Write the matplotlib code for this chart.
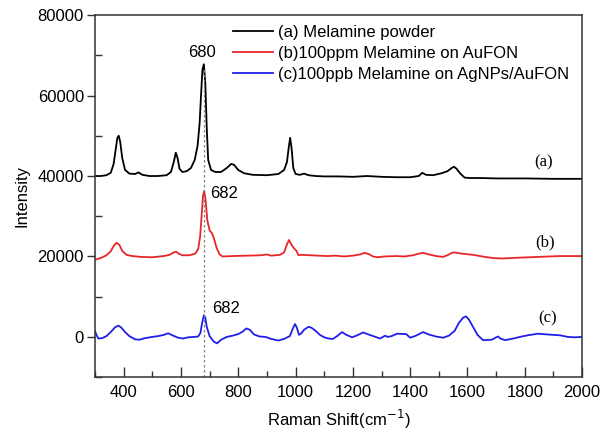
import matplotlib
matplotlib.use("Agg")
import matplotlib.pyplot as plt
from matplotlib.ticker import MultipleLocator

plt.rcParams["font.family"] = ["Liberation Sans", "DejaVu Sans"]

# (a) Melamine powder
a_x = [300, 320, 340, 355, 365, 372, 378, 383, 388, 395, 405, 420, 440, 452, 465, 490,
       520, 550, 565, 575, 582, 588, 595, 605, 620, 635, 648, 658, 665, 670, 675, 680,
       685, 690, 695, 705, 720, 740, 760, 775, 785, 800, 820, 850, 900, 940, 960, 970,
       976, 981, 986, 992, 1000, 1015, 1030, 1045, 1070, 1100, 1150, 1200, 1250, 1300,
       1350, 1400, 1430, 1442, 1455, 1480, 1510, 1530, 1545, 1553, 1562, 1575, 1590,
       1610, 1650, 1700, 1800, 1900, 2000]
a_y = [40000, 40000, 40200, 40800, 43000, 46500, 49500, 50000, 48500, 44500, 41500, 40600,
       40500, 40900, 40300, 40000, 40000, 40200, 41000, 43500, 45800, 44500, 41800, 41000,
       41200, 42000, 44000, 47500, 53000, 60000, 66500, 67800, 63000, 52000, 44000, 41500,
       41000, 41000, 42000, 43000, 42800, 41500, 40700, 40300, 40200, 40500, 41500, 43500,
       47000, 49500, 47000, 42000, 40500, 40300, 40600, 40200, 40000, 39900, 39900, 39800,
       40000, 39800, 39700, 39700, 40000, 40800, 40300, 40200, 40700, 41200, 42000, 42300,
       41800, 40600, 39600, 39500, 39500, 39400, 39400, 39300, 39300]

# (b) 100 ppm on AuFON
b_x = [300, 320, 340, 355, 365, 375, 385, 395, 410, 430, 460, 500, 540, 560, 575, 583,
       592, 605, 630, 650, 660, 667, 672, 677, 681, 686, 692, 700, 708, 715, 725, 735,
       745, 780, 830, 880, 900, 915, 945, 960, 970, 977, 985, 995, 1003, 1010, 1020, 1050,
       1080, 1110, 1140, 1170, 1200, 1225, 1240, 1255, 1270, 1285, 1310, 1350, 1380, 1410,
       1430, 1445, 1460, 1490, 1515, 1530, 1545, 1555, 1580, 1620, 1660, 1690, 1720, 1780,
       1850, 1920, 2000]
b_y = [19200, 19600, 20300, 21300, 22600, 23400, 22900, 21400, 20400, 20100, 19900, 19800,
       20100, 20400, 21000, 21200, 20700, 20300, 20300, 20700, 21800, 25000, 30000, 35000,
       36300, 34000, 29000, 26500, 25800, 24500, 22000, 20500, 20000, 20100, 20200, 20300,
       20500, 20200, 20400, 21000, 23000, 24100, 23000, 22000, 21400, 20300, 20400, 20300,
       20200, 20100, 20200, 20000, 20200, 20500, 20900, 20600, 20000, 19800, 20000, 20100,
       20000, 20300, 20700, 20900, 20600, 20100, 19900, 20300, 20900, 21000, 20700, 20400,
       19900, 19600, 19500, 19700, 19900, 20100, 20100]

# (c) 100 ppb on AgNPs/AuFON
c_x = [300, 305, 312, 325, 340, 355, 370, 382, 392, 405, 420, 440, 455, 475, 500, 520,
       540, 555, 570, 590, 607, 625, 645, 660, 668, 674, 680, 685, 690, 700, 715, 726,
       740, 760, 780, 800, 815, 828, 840, 855, 875, 895, 915, 940, 960, 980, 990, 998,
       1004, 1012, 1020, 1030, 1045, 1055, 1070, 1085, 1100, 1115, 1130, 1145, 1162, 1175,
       1197, 1215, 1236, 1255, 1275, 1295, 1305, 1312, 1322, 1335, 1354, 1386, 1400, 1420,
       1445, 1465, 1490, 1515, 1535, 1555, 1570, 1585, 1595, 1605, 1620, 1635, 1654, 1685,
       1700, 1707, 1715, 1731, 1760, 1783, 1810, 1846, 1880, 1923, 1950, 1975, 2000]
c_y = [1500, 500, -400, -300, 200, 1200, 2400, 2800, 2300, 1200, 200, -600, -700, -300, 0,
       200, 500, 900, 400, -200, -400, -100, 0, 100, 1000, 3500, 5400, 4800, 2500, 200,
       -1200, -1600, -700, 0, 300, 700, 1300, 2100, 1800, 600, 100, 0, -500, -900, -500,
       200, 2000, 3200, 2400, 500, 900, 1800, 2500, 2300, 1500, 500, -100, -400, -500, 200,
       1200, 600, -100, 400, 1100, 600, 100, -400, 0, 300, 0, 200, 800, 700, -200, 300,
       1200, 600, 100, -200, 300, 1500, 3500, 4800, 5100, 4300, 2400, 500, -800, -700,
       -100, 100, -400, -800, -400, 0, 400, 800, 600, 400, 0, -100, 0]

labels = ["(a) Melamine powder", "(b)100ppm Melamine on AuFON",
          "(c)100ppb Melamine on AgNPs/AuFON"]
colors = ["black", "#e8262a", "#1f1fe6"]

fig = plt.figure(figsize=(6.07, 4.32), dpi=100)
ax = fig.add_axes([0.1565, 0.127, 0.8025, 0.838])

for xs, ys, lab, col in zip([a_x, b_x, c_x], [a_y, b_y, c_y], labels, colors):
    ax.plot(xs, ys, color=col, lw=1.3, label=lab)

ax.plot([680, 680], [-10000, 67000], ls=(0, (2, 2)), color="gray", lw=0.9)

ax.text(673, 70800, "680", fontsize=12, ha="center", va="center")
ax.text(701, 35700, "682", fontsize=12, ha="left", va="center")
ax.text(708, 7150, "682", fontsize=12, ha="left", va="center")

for s, (tx, ty) in zip(["(a)", "(b)", "(c)"], [(1864, 43450), (1871, 23570), (1878, 4680)]):
    ax.text(tx, ty, s, fontsize=12, family="Liberation Serif", ha="center", va="center")

ax.set_xlim(300, 2000)
ax.set_ylim(-10000, 80000)
ax.xaxis.set_major_locator(MultipleLocator(200))
ax.xaxis.set_minor_locator(MultipleLocator(100))
ax.yaxis.set_major_locator(MultipleLocator(20000))
ax.yaxis.set_minor_locator(MultipleLocator(10000))
for sp in ax.spines.values():
    sp.set_color("#333333")
    sp.set_linewidth(1.1)
ax.tick_params(which="both", labelsize=12, color="#333333", width=1.0)
ax.tick_params(axis="x", which="major", direction="in", length=7, pad=6)
ax.tick_params(axis="x", which="minor", direction="in", length=4)
ax.tick_params(axis="y", which="major", direction="out", length=6, pad=2)
ax.tick_params(axis="y", which="minor", direction="in", length=5)
ax.set_xlabel("Raman Shift(cm$^{-1}$)", fontsize=12, labelpad=5)
ax.set_ylabel("Intensity", fontsize=12, labelpad=6)

ax.legend(loc="upper left", bbox_to_anchor=(0.283, 0.974), frameon=False, fontsize=12,
          handlelength=2.4, handletextpad=0.3, labelspacing=0.38, borderpad=0,
          borderaxespad=0)

fig.savefig("out.png", dpi=100)
